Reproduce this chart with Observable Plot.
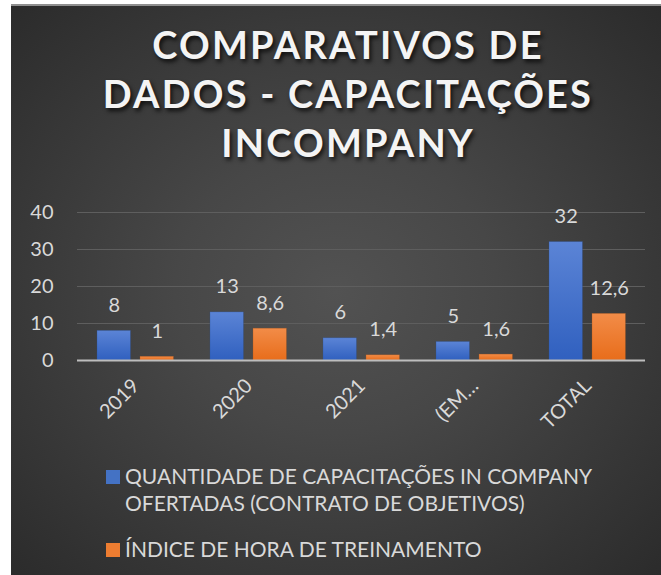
<!DOCTYPE html>
<html>
<head>
<meta charset="utf-8">
<script src="https://cdn.jsdelivr.net/npm/d3@7"></script>
<script src="https://cdn.jsdelivr.net/npm/@observablehq/plot@0.6"></script>
<style>
  html, body { margin: 0; padding: 0; background: #ffffff; }
  body { width: 661px; height: 575px; position: relative; overflow: hidden; font-family: Lato, "Open Sans", sans-serif; }
  #panel {
    position: absolute; left: 11px; top: 4px; width: 650px; height: 571px;
    border-top: 2px solid #8f8f8f;
    background: radial-gradient(ellipse farthest-corner at 50% 50%, #525252 0%, #474747 35%, #2b2b2b 100%);
  }
  #title {
    position: absolute; left: 12px; top: 14px; width: 650px; text-align: center;
    font-family: Lato, sans-serif; font-weight: 700; font-size: 38px; line-height: 49px;
    letter-spacing: 2.2px; color: #f4f4f4;
    text-shadow: 2px 3px 4px rgba(0,0,0,0.75);
  }
  #chart { position: absolute; left: 0; top: 186px; }
  #legend { position: absolute; left: 95px; top: 456px; font-family: Lato, sans-serif; font-size: 21px; color: #d9d9d9; }
  .item { position: relative; padding-left: 19px; line-height: 27px; }
  .item + .item { margin-top: 19px; }
  .sw { position: absolute; left: 0; top: 8px; width: 14px; height: 14px; }
</style>
</head>
<body>
<div id="panel">
  <div id="title"></div>
  <div id="chart"></div>
  <div id="legend"></div>
</div>
<script>
const titleLines = ["COMPARATIVOS DE", "DADOS - CAPACITAÇÕES", "INCOMPANY"];
const categories = ["2019", "2020", "2021", "(EM…", "TOTAL"];
const seriesNames = [
  "QUANTIDADE DE CAPACITAÇÕES IN COMPANY OFERTADAS (CONTRATO DE OBJETIVOS)",
  "ÍNDICE DE HORA DE TREINAMENTO"
];
const legendLines = [
  ["QUANTIDADE DE CAPACITAÇÕES IN COMPANY", "OFERTADAS (CONTRATO DE OBJETIVOS)"],
  ["ÍNDICE DE HORA DE TREINAMENTO"]
];
const quantidade = [8, 13, 6, 5, 32];
const indice = [1, 8.6, 1.4, 1.6, 12.6];
const yTicks = [0, 10, 20, 30, 40];
const gridTicks = [10, 20, 30, 40];
const seriesColors = ["url(#gBlue)", "url(#gOrange)"];
const swatchColors = ["#4472c4", "#ed7d31"];

document.getElementById("title").innerHTML = titleLines.join("<br>");

const rowsA = categories.map((c, i) => ({category: c, value: quantidade[i], series: seriesNames[0]}));
const rowsB = categories.map((c, i) => ({category: c, value: indice[i], series: seriesNames[1]}));
const fmt = d => String(d.value).replace(".", ",");

const plot = Plot.plot({
  width: 650,
  height: 250,
  marginTop: 20,
  marginBottom: 82,
  marginLeft: 66,
  marginRight: 16,
  style: {fontFamily: "Lato, sans-serif", fontSize: "20px", color: "#d9d9d9", background: "transparent", overflow: "visible"},
  x: {domain: categories, padding: 0, label: null, tickSize: 0, tickPadding: 22, tickRotate: -45},
  y: {domain: [0, 40], ticks: yTicks, label: null, tickSize: 0, tickPadding: 24},
  marks: [
    Plot.ruleY(gridTicks, {stroke: "#5e5e5e", strokeWidth: 1}),
    Plot.barY(rowsA, {x: "category", y: "value", fill: seriesColors[0], insetLeft: 18, insetRight: 61.6, stroke: "#2c4f94", strokeOpacity: 0.5, strokeWidth: 0.6}),
    Plot.barY(rowsB, {x: "category", y: "value", fill: seriesColors[1], insetLeft: 61, insetRight: 18.6, stroke: "#a8561d", strokeOpacity: 0.5, strokeWidth: 0.6}),
    Plot.ruleY([0], {stroke: "#bdbdbd", strokeWidth: 2}),
    Plot.text(rowsA, {x: "category", y: "value", text: fmt, dx: -21.8, dy: -19, lineAnchor: "bottom", fill: "#d9d9d9"}),
    Plot.text(rowsB, {x: "category", y: "value", text: fmt, dx: 21.2, dy: -19, lineAnchor: "bottom", fill: "#d9d9d9"})
  ]
});

const svg = d3.select(plot);
const defs = svg.insert("defs", ":first-child");
const addGrad = (id, top, bottom) => {
  const g = defs.append("linearGradient").attr("id", id).attr("x1", 0).attr("y1", 0).attr("x2", 0).attr("y2", 1);
  g.append("stop").attr("offset", "0%").attr("stop-color", top);
  g.append("stop").attr("offset", "100%").attr("stop-color", bottom);
};
addGrad("gBlue", "#5b84d6", "#3060bf");
addGrad("gOrange", "#f28c48", "#e86d1b");
document.getElementById("chart").appendChild(plot);

const legend = document.getElementById("legend");
legendLines.forEach((lines, i) => {
  const item = document.createElement("div");
  item.className = "item";
  item.title = seriesNames[i];
  const sw = document.createElement("span");
  sw.className = "sw";
  sw.style.background = swatchColors[i];
  item.appendChild(sw);
  item.innerHTML += lines.join("<br>");
  legend.appendChild(item);
});
</script>
</body>
</html>
